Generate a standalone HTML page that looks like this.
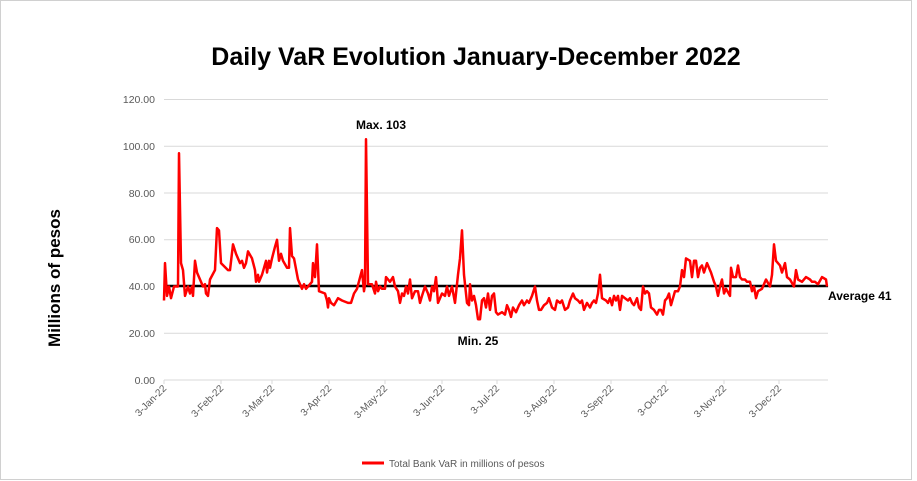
<!DOCTYPE html>
<html><head><meta charset="utf-8"><style>
html,body{margin:0;padding:0;background:#fff;}
svg{display:block;font-family:"Liberation Sans",Calibri,sans-serif;}
</style></head><body>
<svg width="917" height="481" viewBox="0 0 917 481">
<rect x="0.5" y="0.5" width="911" height="479" fill="#fff" stroke="#d0d0d0"/>
<text x="476" y="65" text-anchor="middle" font-size="25" font-weight="bold" fill="#000">Daily VaR Evolution January-December 2022</text>
<text transform="translate(60,278) rotate(-90)" text-anchor="middle" font-size="17" font-weight="bold" fill="#000">Millions of pesos</text>
<g stroke="#d9d9d9" stroke-width="1">
<line x1="164" x2="828" y1="99.5" y2="99.5"/>
<line x1="164" x2="828" y1="146.3" y2="146.3"/>
<line x1="164" x2="828" y1="193" y2="193"/>
<line x1="164" x2="828" y1="239.8" y2="239.8"/>
<line x1="164" x2="828" y1="286.5" y2="286.5"/>
<line x1="164" x2="828" y1="333.3" y2="333.3"/>
<line x1="164" x2="828" y1="380" y2="380"/>
</g>
<g font-size="10.5" fill="#595959" text-anchor="end">
<text x="155" y="103">120.00</text><text x="155" y="150">100.00</text><text x="155" y="197">80.00</text>
<text x="155" y="243">60.00</text><text x="155" y="290">40.00</text><text x="155" y="337">20.00</text><text x="155" y="384">0.00</text>
</g>
<g id="ticks" font-size="10" fill="#595959"></g>
<line x1="164" x2="828" y1="286" y2="286" stroke="#000" stroke-width="2.5"/>
<polyline id="s" fill="none" stroke="#ff0000" stroke-width="2.5" stroke-linejoin="round"/>
<text x="381" y="129" text-anchor="middle" font-size="12" font-weight="bold">Max. 103</text>
<text x="478" y="345" text-anchor="middle" font-size="12" font-weight="bold">Min. 25</text>
<text x="828" y="300" font-size="12" font-weight="bold">Average 41</text>
<line x1="362" x2="384" y1="463" y2="463" stroke="#ff0000" stroke-width="3"/>
<text x="389" y="467" font-size="10" fill="#595959">Total Bank VaR in millions of pesos</text>
</svg>
<script>
var d=[164,34,165,50,167,36,169,40,171,35,174,40,176,40,178,40,179,97,181,50,183,47,185,36,188,40,190,37,192,40,193,36,195,51,197,46,200,43,203,40,205,41,206,37,208,36,210,43,215,47,217,65,219,64,221,50,228,47,230,47,233,58,236,54,240,50,242,51,244,48,246,50,248,55,252,52,255,47,256,42,258,45,259,42,262,45,266,51,267,46,269,51,270,48,272,52,275,57,277,60,279,51,281,54,283,51,287,48,289,48,290,65,292,53,294,52,298,43,302,39,304,41,306,39,308,40,312,42,313,50,315,44,317,58,319,38,325,37,327,34,328,31,329,35,331,33,334,32,338,35,342,34,348,33,351,33,354,37,357,39,362,47,364,38,365,41,366,103,368,41,372,41,375,37,376,42,378,38,380,40,382,39,385,39,386,44,390,42,393,44,395,40,398,38,400,33,402,37,404,36,406,40,408,37,410,43,412,35,415,38,418,38,420,33,422,36,425,40,428,37,430,34,432,40,434,38,436,44,438,33,442,37,445,36,447,40,449,36,452,40,455,33,458,45,460,52,462,64,464,45,467,33,469,32,470,41,472,34,474,36,476,32,478,26,480,26,482,34,484,35,486,31,488,37,490,30,492,36,494,37,496,29,498,28,502,29,505,28,507,32,509,30,511,27,513,31,516,29,519,32,522,34,524,32,527,34,529,33,532,36,535,40,537,34,539,30,541,30,544,32,547,33,549,35,552,31,555,30,557,34,560,33,562,34,565,30,568,31,570,34,573,37,575,35,578,34,580,33,582,34,584,30,587,33,590,31,592,33,594,34,596,33,598,37,600,45,602,35,606,34,608,33,610,35,612,32,614,36,616,34,618,36,620,30,622,36,625,35,628,34,630,35,632,33,634,32,637,35,639,31,641,30,643,40,645,37,647,38,649,37,651,31,654,30,657,28,659,30,661,30,663,28,665,34,667,35,669,37,671,32,673,35,675,38,678,38,680,40,682,47,684,44,686,52,690,51,692,44,694,51,696,51,698,44,700,48,702,49,704,46,707,50,711,46,714,42,716,40,718,36,720,40,722,43,724,37,726,39,730,36,731,48,733,44,736,44,738,49,740,44,742,43,745,43,747,42,750,42,752,38,754,40,756,35,758,38,762,39,766,43,770,40,772,45,774,58,776,51,780,49,782,46,785,50,787,44,790,43,794,40,796,47,798,43,802,42,806,44,810,43,812,42,815,42,818,41,822,44,826,43,827,40];
var p=[];for(var i=0;i<d.length;i+=2)p.push(d[i]+","+(380-2.3375*d[i+1]).toFixed(1));
document.getElementById('s').setAttribute('points',p.join(' '));
var t=[["3-Jan-22",164],["3-Feb-22",221],["3-Mar-22",272],["3-Apr-22",329],["3-May-22",385],["3-Jun-22",442],["3-Jul-22",497],["3-Aug-22",554],["3-Sep-22",611],["3-Oct-22",666],["3-Nov-22",724],["3-Dec-22",779]];
var g=document.getElementById('ticks'),h='';
t.forEach(function(a){h+='<line x1="'+a[1]+'" x2="'+a[1]+'" y1="380" y2="384" stroke="#d9d9d9"/>';
h+='<text transform="translate('+(a[1]+3)+',389) rotate(-45)" text-anchor="end">'+a[0]+'</text>';});
g.innerHTML=h;
</script>
</body></html>
